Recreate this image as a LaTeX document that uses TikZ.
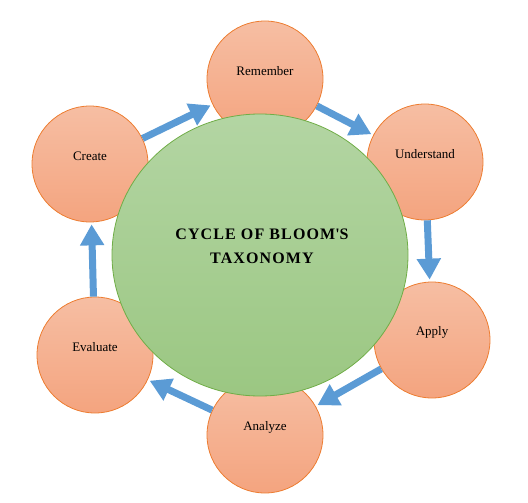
\documentclass[tikz,border=0pt]{standalone}
\usepackage{fontspec}
\setmainfont{Liberation Serif}
\usepackage{xcolor}
\usepackage{tikz}
\usetikzlibrary{shapes,arrows.meta,positioning}

\definecolor{stagetop}{HTML}{F6BEA3}
\definecolor{stagebot}{HTML}{F4A47F}
\definecolor{stageline}{HTML}{ED7D31}
\definecolor{coretop}{HTML}{B3D5A3}
\definecolor{corebot}{HTML}{9BC782}
\definecolor{coreline}{HTML}{70AD47}
\definecolor{flowblue}{HTML}{5B9BD5}

\begin{document}
\begin{tikzpicture}[
    x=1pt, y=-1pt,
    stage/.style={circle, draw=stageline, line width=0.8pt, minimum size=116pt, inner sep=0pt,
        top color=stagetop, bottom color=stagebot},
    core/.style={ellipse, draw=coreline, line width=0.8pt, minimum width=296pt, minimum height=282pt,
        inner sep=0pt, top color=coretop, bottom color=corebot},
    flow/.style={line width=7pt, draw=flowblue, -{Triangle[width=23pt,length=21pt]}, shorten >=2pt}
]
\useasboundingbox (0,0) rectangle (528,503);

% === Stages around the cycle ===
\foreach \name/\x/\y/\txt in {remember/265/79/Remember, understand/425/162/Understand,
    apply/432/340/Apply, analyze/265/435/Analyze, evaluate/95/355/Evaluate, create/90/164/Create} {
    \node[stage, label={[yshift=8pt, font=\fontsize{13}{15}\selectfont]center:\txt}] (\name) at (\x,\y) {};
}

% === Centre ===
\node[core] (centre) at (260,255) {};
\node[align=center, font=\fontsize{16}{24}\selectfont\bfseries\addfontfeatures{LetterSpace=7}] (title) at (262,246)
    {CYCLE OF BLOOM\textquotesingle S\\TAXONOMY};

% Arrows between stages
\foreach \a/\b in {create/remember, remember/understand, understand/apply,
    apply/analyze, analyze/evaluate, evaluate/create} {
    \draw[flow] (\a) -- (\b);
}

\end{tikzpicture}
\end{document}
